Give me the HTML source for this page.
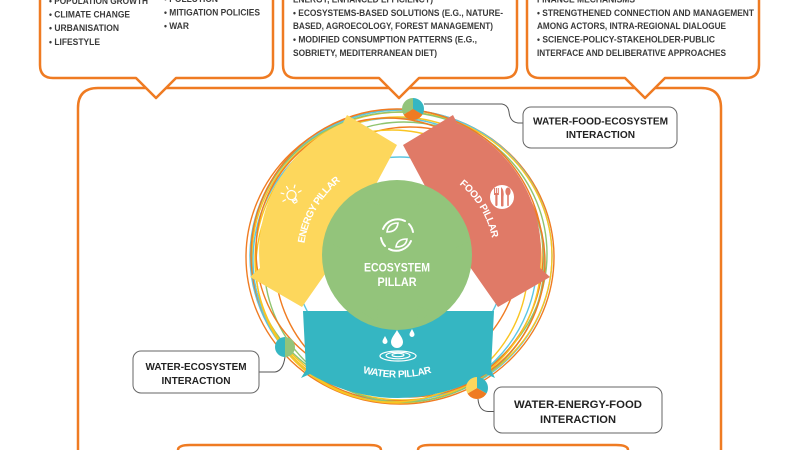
<!DOCTYPE html>
<html><head><meta charset="utf-8">
<style>html,body{margin:0;padding:0;background:#fff;width:800px;height:450px;overflow:hidden;}svg{display:block;overflow:hidden;}</style>
</head><body>
<svg width="800" height="450" viewBox="0 0 800 450" xmlns="http://www.w3.org/2000/svg" font-family="'Liberation Sans', sans-serif">
<rect width="800" height="450" fill="#fff"/>

<!-- main orange frame (open at bottom edge) -->
<path d="M 78,450 V 108 Q 78,88 98,88 H 701 Q 721,88 721,108 V 450" fill="none" stroke="#ef7b22" stroke-width="2.5"/>
<!-- bottom orange boxes (tops only visible) -->
<path d="M 178,450 Q 178,445 190,445 H 369 Q 381,445 381,450" fill="none" stroke="#ef7b22" stroke-width="2.5"/>
<path d="M 418,450 Q 418,445 430,445 H 616 Q 628,445 628,450" fill="none" stroke="#ef7b22" stroke-width="2.5"/>

<!-- top callouts -->
<g fill="#fff" stroke="#ef7b22" stroke-width="2.5" stroke-linejoin="round">
<path d="M 40,0 V 65 Q 40,78 53,78 H 136 L 156,98 L 176,78 H 260 Q 273,78 273,65 V 0"/>
<path d="M 283,0 V 65 Q 283,78 296,78 H 379 L 399,98 L 419,78 H 504 Q 517,78 517,65 V 0"/>
<path d="M 527,0 V 65 Q 527,78 540,78 H 625 L 645,98 L 665,78 H 746 Q 759,78 759,65 V 0"/>
</g>

<g font-size="9.6" font-weight="bold" fill="#3a3a3a">
<text x="49" y="3.8" textLength="99" lengthAdjust="spacingAndGlyphs">• POPULATION GROWTH</text>
<text x="49" y="17.5" textLength="81" lengthAdjust="spacingAndGlyphs">• CLIMATE CHANGE</text>
<text x="49" y="30.8" textLength="70" lengthAdjust="spacingAndGlyphs">• URBANISATION</text>
<text x="49" y="44.8" textLength="51" lengthAdjust="spacingAndGlyphs">• LIFESTYLE</text>
<text x="164" y="2" textLength="54" lengthAdjust="spacingAndGlyphs">• POLLUTION</text>
<text x="164" y="15.5" textLength="96" lengthAdjust="spacingAndGlyphs">• MITIGATION POLICIES</text>
<text x="164" y="28.8" textLength="25" lengthAdjust="spacingAndGlyphs">• WAR</text>

<text x="293" y="2.7" textLength="140" lengthAdjust="spacingAndGlyphs">ENERGY, ENHANCED EFFICIENCY)</text>
<text x="293" y="16.1" textLength="210" lengthAdjust="spacingAndGlyphs">• ECOSYSTEMS-BASED SOLUTIONS (E.G., NATURE-</text>
<text x="293" y="28.9" textLength="200" lengthAdjust="spacingAndGlyphs">BASED, AGROECOLOGY, FOREST MANAGEMENT)</text>
<text x="293" y="42.7" textLength="184" lengthAdjust="spacingAndGlyphs">• MODIFIED CONSUMPTION PATTERNS (E.G.,</text>
<text x="293" y="56.1" textLength="144" lengthAdjust="spacingAndGlyphs">SOBRIETY, MEDITERRANEAN DIET)</text>

<text x="537" y="2.7" textLength="98" lengthAdjust="spacingAndGlyphs">FINANCE MECHANISMS</text>
<text x="537" y="16.1" textLength="217" lengthAdjust="spacingAndGlyphs">• STRENGTHENED CONNECTION AND MANAGEMENT</text>
<text x="537" y="28.9" textLength="189" lengthAdjust="spacingAndGlyphs">AMONG ACTORS, INTRA-REGIONAL DIALOGUE</text>
<text x="537" y="42.7" textLength="178" lengthAdjust="spacingAndGlyphs">• SCIENCE-POLICY-STAKEHOLDER-PUBLIC</text>
<text x="537" y="56.1" textLength="189" lengthAdjust="spacingAndGlyphs">INTERFACE AND DELIBERATIVE APPROACHES</text>
</g>

<!-- rings -->
<g fill="none" stroke-width="1.4">
<ellipse cx="400" cy="257" rx="154" ry="147" stroke="#f07c22"/>
<ellipse cx="401" cy="256" rx="151" ry="146" stroke="#5cc6e2"/>
<ellipse cx="402" cy="256" rx="150" ry="144" stroke="#f9c523"/>
<ellipse cx="399" cy="254" rx="148" ry="142" stroke="#8fc46f"/>
<circle cx="397" cy="255" r="146" stroke="#f07c22"/>
<circle cx="395" cy="260" r="142" stroke="#5cc6e2"/>
<circle cx="398" cy="260" r="143" stroke="#f9c523"/>
<circle cx="404" cy="262" r="140" stroke="#8fc46f"/>
<circle cx="410" cy="262" r="135" stroke="#f07c22"/>
<circle cx="392" cy="266" r="136" stroke="#f9c523"/>
<circle cx="388" cy="250" r="132" stroke="#f07c22"/>
<circle cx="400" cy="262" r="105" stroke="#5cc6e2"/>
</g>

<!-- pillars -->
<path d="M 260,268 A 141 141 0 0 1 343,123 L 347,115 L 397,145 L 337,257 L 302,307 L 250,277 Z" fill="#fdd75c"/>
<path d="M 540,268 A 141 141 0 0 0 457,123 L 453,115 L 403,145 L 463,257 L 498,307 L 550,277 Z" fill="#e07a67"/>
<path d="M 303,311 L 494,311 L 491,370 L 495,378 L 486,374 A 173 173 0 0 1 310,374 L 301,378 L 306,370 Z" fill="#35b6c2"/>
<circle cx="397" cy="255" r="75" fill="#93c47b"/>

<!-- green barbs -->
<g fill="#93c47b">
<path d="M 366,202 L 374,186 L 380,205 Z"/>
<path d="M 433,201 L 421,186 L 416,205 Z"/>
<path d="M 335,258 L 328,242 L 345,250 Z"/>
<path d="M 461,258 L 468,242 L 451,250 Z"/>
<path d="M 362,312 L 377,322 L 378,306 Z"/>
<path d="M 433,311 L 418,322 L 417,306 Z"/>
</g>

<defs>
<path id="ep" d="M 309.8,291.5 A 97 97 0 0 1 384.2,161.5" fill="none"/>
<path id="fp" d="M 414.2,164.1 A 94 94 0 0 1 489.0,287.1" fill="none"/>
<path id="wp" d="M 333.25,360.4 A 127.5 127.5 0 0 0 460.75,360.4" fill="none"/>
</defs>

<g font-weight="bold" fill="#fff">
<text font-size="10" letter-spacing="-0.6"><textPath href="#ep" startOffset="50%" text-anchor="middle">ENERGY PILLAR</textPath></text>
<text font-size="10" letter-spacing="-0.35"><textPath href="#fp" startOffset="50%" text-anchor="middle">FOOD PILLAR</textPath></text>
<text font-size="10" letter-spacing="-0.4"><textPath href="#wp" startOffset="50%" text-anchor="middle">WATER PILLAR</textPath></text>
<text x="397" y="271.5" font-size="12" text-anchor="middle" textLength="66" lengthAdjust="spacingAndGlyphs">ECOSYSTEM</text>
<text x="397" y="286" font-size="12" text-anchor="middle" textLength="39" lengthAdjust="spacingAndGlyphs">PILLAR</text>
</g>

<!-- bulb icon -->
<g transform="translate(292,196) rotate(-30)" stroke="#fff" stroke-width="1.2" fill="none" stroke-linecap="round">
<circle cx="0" cy="-1" r="4.6"/>
<path d="M -2,3.5 V 6.5 M 2,3.5 V 6.5 M -2,5 H 2 M -1.5,7.5 H 1.5"/>
<path d="M 0,-8 V -11 M 6,-6 L 8,-8 M -6,-6 L -8,-8 M 7.5,0 H 10.5 M -7.5,0 H -10.5"/>
</g>

<!-- food icon -->
<circle cx="502" cy="197" r="12" fill="#fff"/>
<g fill="#e07a67">
<rect x="495.3" y="194" width="2.2" height="12" rx="1"/>
<rect x="494" y="188" width="1" height="7"/>
<rect x="495.9" y="188" width="1" height="7"/>
<rect x="497.8" y="188" width="1" height="7"/>
<rect x="494" y="193" width="4.8" height="2" rx="1"/>
<path d="M 501,187 Q 504.5,190 503.5,197 L 503.5,206 Q 502,207 501,206 Z"/>
<ellipse cx="508" cy="191.5" rx="2.6" ry="4"/>
<rect x="507.2" y="194" width="1.6" height="12" rx="0.8"/>
</g>

<!-- ecosystem icon -->
<g stroke="#fff" fill="none" stroke-width="2" stroke-linecap="round">
<path d="M 383,229 A 16 16 0 0 1 405,221"/>
<path d="M 411,241 A 16 16 0 0 1 389,249"/>
<path d="M 381,238 A 16 16 0 0 0 385,246"/>
<path d="M 413,232 A 16 16 0 0 0 409,224"/>
<path d="M 387,232 Q 388,223 398,223 Q 397,232 387,232 Z" stroke-width="1.6"/>
<path d="M 407,239 Q 406,247 396,247 Q 397,239 407,239 Z" stroke-width="1.6"/>
</g>

<!-- water icon -->
<g fill="#fff">
<path d="M 397,330 C 395,334 391,338 391,342 A 6 6 0 0 0 403,342 C 403,338 399,334 397,330 Z"/>
<path d="M 385,336 C 384,338 382.5,340 382.5,341.5 A 2.5 2.5 0 0 0 387.5,341.5 C 387.5,340 386,338 385,336 Z"/>
<path d="M 412,329 C 411,331 409.5,333 409.5,334.5 A 2.5 2.5 0 0 0 414.5,334.5 C 414.5,333 413,331 412,329 Z"/>
</g>
<g fill="none" stroke="#fff" stroke-width="1.2">
<ellipse cx="398" cy="356" rx="18" ry="5"/>
<ellipse cx="398" cy="355.5" rx="12" ry="3.3"/>
<ellipse cx="398" cy="355" rx="6" ry="1.7"/>
</g>

<!-- pies -->
<path d="M 413,109 L 413,98 A 11 11 0 0 1 422.5,114.5 Z" fill="#35b6c2"/>
<path d="M 413,109 L 422.5,114.5 A 11 11 0 0 1 403.5,114.5 Z" fill="#ef7b22"/>
<path d="M 413,109 L 403.5,114.5 A 11 11 0 0 1 413,98 Z" fill="#93c47b"/>

<path d="M 477,388 L 477,377 A 11 11 0 0 1 486.5,393.5 Z" fill="#35b6c2"/>
<path d="M 477,388 L 486.5,393.5 A 11 11 0 0 1 467.5,393.5 Z" fill="#ef7b22"/>
<path d="M 477,388 L 467.5,393.5 A 11 11 0 0 1 477,377 Z" fill="#fdd75c"/>

<path d="M 285,337 A 10 10 0 0 0 285,357 Z" fill="#35b6c2"/>
<path d="M 285,337 A 10 10 0 0 1 285,357 Z" fill="#93c47b"/>

<!-- connectors -->
<g fill="none" stroke="#555" stroke-width="1">
<path d="M 424,104 H 502 Q 508,105 509,112 Q 510,122 518,123 H 523"/>
<path d="M 259,372 H 275 Q 283,371 285,357"/>
<path d="M 478,399 Q 479,411 488,411.5 H 494"/>
</g>

<!-- gray label boxes -->
<g fill="#fff" stroke="#666" stroke-width="1">
<rect x="523" y="107" width="154" height="41" rx="8"/>
<rect x="133" y="351" width="126" height="42" rx="8"/>
<rect x="494" y="387" width="168" height="46" rx="8"/>
</g>
<g font-weight="bold" fill="#222" text-anchor="middle">
<text x="600.5" y="124.6" font-size="10" textLength="135" lengthAdjust="spacingAndGlyphs">WATER-FOOD-ECOSYSTEM</text>
<text x="600.5" y="137.8" font-size="10" textLength="69" lengthAdjust="spacingAndGlyphs">INTERACTION</text>
<text x="196" y="369.8" font-size="10" textLength="101" lengthAdjust="spacingAndGlyphs">WATER-ECOSYSTEM</text>
<text x="196" y="383.8" font-size="10" textLength="69" lengthAdjust="spacingAndGlyphs">INTERACTION</text>
<text x="578" y="408.2" font-size="11" textLength="128" lengthAdjust="spacingAndGlyphs">WATER-ENERGY-FOOD</text>
<text x="578" y="423" font-size="11" textLength="76" lengthAdjust="spacingAndGlyphs">INTERACTION</text>
</g>
</svg>
</body></html>
